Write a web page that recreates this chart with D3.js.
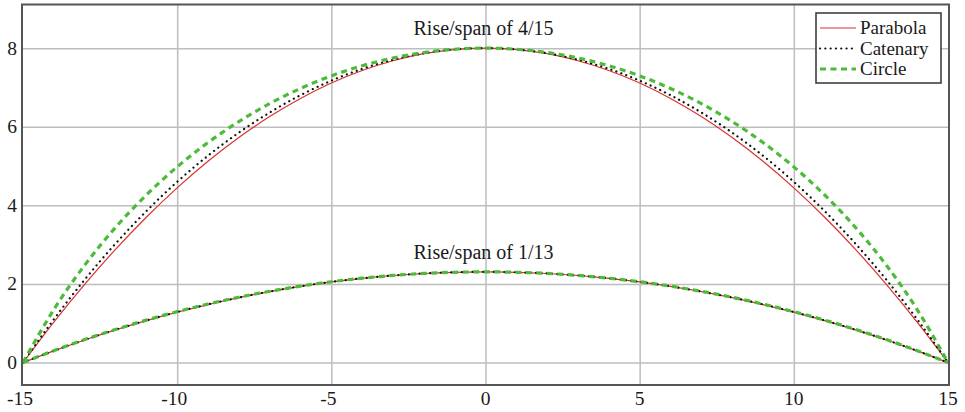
<!DOCTYPE html>
<html>
<head>
<meta charset="utf-8">
<script src="https://cdn.jsdelivr.net/npm/d3@7"></script>
<style>
  body { margin: 0; background: #fff; }
  svg { display: block; }
  text { font-family: "Liberation Serif", "Times New Roman", serif; fill: #1a1a1a; }
</style>
</head>
<body>
<svg id="chart" width="965" height="412"></svg>
<script>
// x positions sampled along the span
const xs = [-15,-14,-13,-12,-11,-10,-9,-8,-7,-6,-5,-4,-3,-2,-1,0,1,2,3,4,5,6,7,8,9,10,11,12,13,14,15];

// rise/span 4/15 (rise 8), half profile for x = 0..15
const half8Parabola = [8, 7.964, 7.858, 7.68, 7.431, 7.111, 6.72, 6.258, 5.724, 5.12, 4.444, 3.698, 2.88, 1.991, 1.031, 0];
const half8Catenary = [8, 7.967, 7.869, 7.704, 7.472, 7.172, 6.803, 6.363, 5.851, 5.264, 4.599, 3.854, 3.025, 2.109, 1.102, 0];
const half8Circle   = [8, 7.972, 7.889, 7.749, 7.552, 7.294, 6.974, 6.589, 6.132, 5.598, 4.979, 4.264, 3.438, 2.478, 1.35, 0];

// rise/span 1/13 (rise 30/13)
const half2Parabola = [2.3077, 2.2974, 2.2667, 2.2154, 2.1436, 2.0513, 1.9385, 1.8051, 1.6513, 1.4769, 1.2821, 1.0667, 0.8308, 0.5744, 0.2974, 0];
const half2Catenary = [2.3077, 2.2975, 2.267, 2.2161, 2.1448, 2.053, 1.9409, 1.8081, 1.6549, 1.481, 1.2864, 1.0711, 0.8349, 0.5777, 0.2995, 0];
const half2Circle   = [2.3077, 2.2977, 2.2676, 2.2175, 2.1472, 2.0566, 1.9457, 1.8143, 1.6623, 1.4895, 1.2955, 1.0803, 0.8435, 0.5847, 0.3037, 0];

const xTicks = [-15, -10, -5, 0, 5, 10, 15];
const yTicks = [0, 2, 4, 6, 8];
const seriesNames = ["Parabola", "Catenary", "Circle"];
const titles = [
  { text: "Rise/span of 4/15", y: 8 },
  { text: "Rise/span of 1/13", y: 2.3077 }
];

// mirror a half profile onto the full span
function full(half) {
  return xs.map(x => ({ x: x, y: half[Math.abs(x)] }));
}

const plotLeft = 23, plotRight = 948, plotTop = 4.5, plotBottom = 385;
const x = d3.scaleLinear().domain([-15, 15]).range([plotLeft, plotRight]);
const y = d3.scaleLinear().domain([-0.57, 9.11]).range([plotBottom, plotTop]);

const svg = d3.select("#chart");

// grid
const gx = svg.append("g")
  .attr("transform", `translate(0,${plotBottom})`)
  .call(d3.axisBottom(x).tickValues(xTicks.slice(1, -1)).tickSize(-(plotBottom - plotTop)).tickFormat(""));
const gy = svg.append("g")
  .attr("transform", `translate(${plotLeft},0)`)
  .call(d3.axisLeft(y).tickValues(yTicks).tickSize(-(plotRight - plotLeft)).tickFormat(""));
[gx, gy].forEach(g => {
  g.select(".domain").remove();
  g.selectAll(".tick line").attr("stroke", "#bdbdbd").attr("stroke-width", 1.5);
});

// tick labels
svg.append("g").selectAll("text")
  .data(xTicks)
  .join("text")
  .attr("x", d => x(d) - (d < 0 ? 3 : 0))
  .attr("y", 405)
  .attr("text-anchor", "middle")
  .attr("font-size", 19.5)
  .text(d => d < 0 ? "-" + Math.abs(d) : d);

svg.append("g").selectAll("text")
  .data(yTicks)
  .join("text")
  .attr("x", 17)
  .attr("y", d => y(d) + 6.5)
  .attr("text-anchor", "end")
  .attr("font-size", 19.5)
  .text(d => d);

// curves
const line = d3.line().x(d => x(d.x)).y(d => y(d.y)).curve(d3.curveMonotoneX);

const styles = {
  Parabola: { stroke: "#d9332e", width: 1.2, dash: null, cap: "butt" },
  Catenary: { stroke: "#111", width: 2.2, dash: "0.1,5.2", cap: "round" },
  Circle:   { stroke: "#4cbb3a", width: 3.2, dash: "6,4.5", cap: "butt" }
};

const curves = [
  { name: "Parabola", data: full(half8Parabola) },
  { name: "Catenary", data: full(half8Catenary) },
  { name: "Circle", data: full(half8Circle) },
  { name: "Parabola", data: full(half2Parabola) },
  { name: "Catenary", data: full(half2Catenary) },
  { name: "Circle", data: full(half2Circle) }
];

svg.append("g").selectAll("path")
  .data(curves)
  .join("path")
  .attr("d", d => line(d.data))
  .attr("fill", "none")
  .attr("stroke", d => styles[d.name].stroke)
  .attr("stroke-width", d => styles[d.name].width)
  .attr("stroke-dasharray", d => styles[d.name].dash)
  .attr("stroke-linecap", d => styles[d.name].cap);

// titles above the crowns
svg.append("g").selectAll("text")
  .data(titles)
  .join("text")
  .attr("x", 483.5)
  .attr("y", d => y(d.y) - 13)
  .attr("text-anchor", "middle")
  .attr("font-size", 20)
  .text(d => d.text);

// frame
svg.append("rect")
  .attr("x", plotLeft - 1).attr("y", plotTop)
  .attr("width", plotRight - plotLeft + 2).attr("height", plotBottom - plotTop)
  .attr("fill", "none").attr("stroke", "#555").attr("stroke-width", 2);

// legend
const lg = svg.append("g").attr("transform", "translate(816,13)");
lg.append("rect")
  .attr("width", 125).attr("height", 70)
  .attr("fill", "#fff").attr("stroke", "#333").attr("stroke-width", 1.5);
seriesNames.forEach((name, i) => {
  const cy = 15 + i * 20.5;
  const s = styles[name];
  lg.append("line")
    .attr("x1", 4).attr("x2", 40).attr("y1", cy).attr("y2", cy)
    .attr("stroke", s.stroke)
    .attr("stroke-width", name === "Circle" ? 2.8 : s.width)
    .attr("stroke-dasharray", s.dash)
    .attr("stroke-linecap", s.cap);
  lg.append("text")
    .attr("x", 44).attr("y", cy + 6)
    .attr("font-size", 19)
    .text(name);
});
</script>
</body>
</html>
